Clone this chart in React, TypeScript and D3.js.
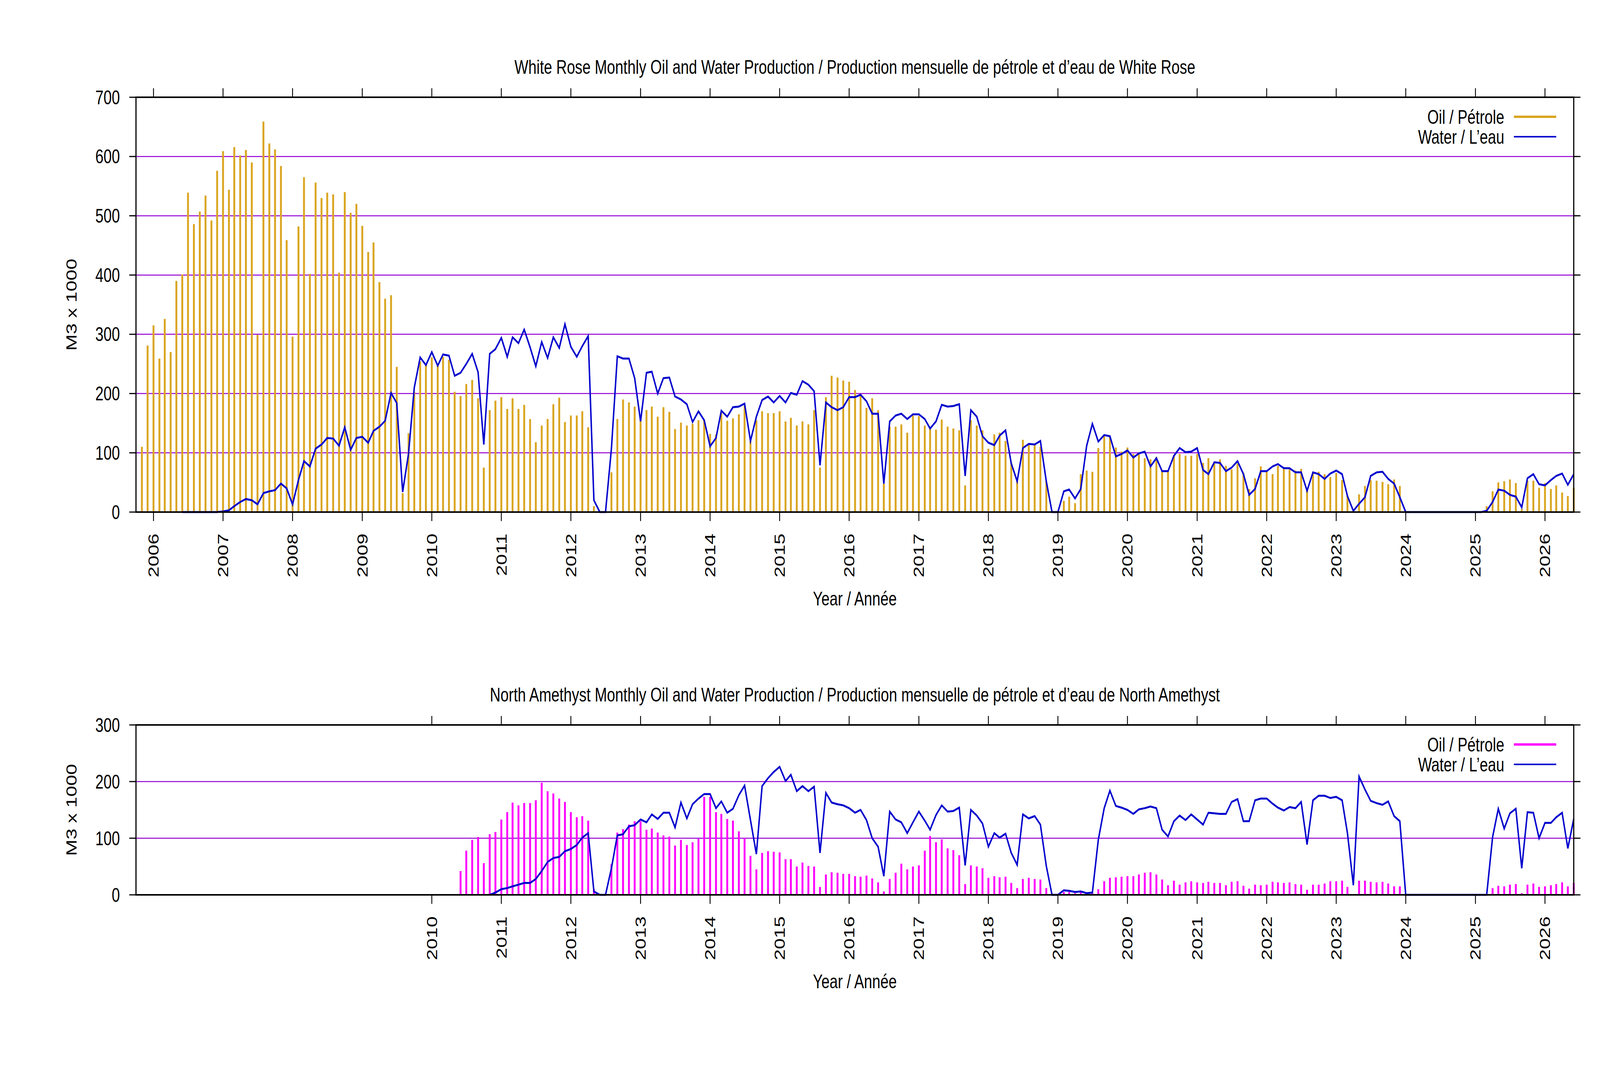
import React from 'react';
import * as d3 from 'd3';

// White Rose (goldenrod bars) and North Amethyst (magenta bars), monthly, M3 x 1000
const wrOilStart = [2005, 10]; // Nov 2005
const wrOil = [
  110, 281,
  315, 259, 326, 270, 390, 401, 539, 486, 507, 534, 492, 576, // 2006
  609, 544, 616, 602, 611, 590, 299, 659, 622, 612, 584, 459, // 2007
  296, 482, 565, 402, 556, 530, 539, 536, 404, 540, 505, 520, // 2008
  483, 439, 455, 388, 360, 366, 245, 32, 133, 203, 254, 249, // 2009
  261, 247, 262, 257, 203, 196, 216, 223, 192, 75, 172, 188, // 2010
  194, 174, 192, 174, 181, 157, 118, 146, 157, 182, 193, 152, // 2011
  163, 163, 170, 143, 10, 0, 0, 67, 157, 190, 185, 178, // 2012
  155, 172, 178, 161, 177, 169, 140, 151, 146, 149, 155, 155, // 2013
  132, 131, 167, 154, 158, 165, 179, 120, 155, 170, 167, 167, // 2014
  170, 153, 159, 146, 153, 148, 172, 75, 194, 230, 227, 222, // 2015
  220, 206, 197, 176, 192, 172, 48, 144, 144, 148, 134, 163, // 2016
  162, 146, 141, 139, 156, 144, 141, 138, 45, 155, 146, 138, // 2017
  107, 131, 134, 120, 83, 52, 122, 113, 113, 110, 52, 0, // 2018
  0, 19, 26, 15, 64, 70, 68, 108, 128, 127, 109, 102, // 2019
  109, 98, 100, 91, 89, 93, 69, 69, 96, 98, 95, 95, // 2020
  98, 83, 91, 82, 89, 78, 72, 82, 66, 39, 57, 77, // 2021
  70, 64, 78, 73, 72, 70, 73, 39, 68, 68, 64, 59, // 2022
  66, 54, 28, 0, 30, 44, 54, 53, 51, 47, 55, 44, // 2023
  0, 0, 0, 0, 0, 0, 0, 0, 0, 0, 0, 0, // 2024
  0, 0, 10, 35, 50, 52, 55, 49, 5, 53, 53, 41, // 2025
  49, 39, 45, 33, 27, 41, // 2026
];

const wrWaterStart = [2006, 5]; // Jun 2006
const wrWater = [
  0, 0, 0, 0, 0, 0, 0,
  1, 3, 10, 17, 22, 20, 13, 32, 35, 37, 48, 40, // 2007
  13, 54, 86, 77, 107, 114, 125, 124, 112, 143, 105, 125, // 2008
  127, 117, 137, 144, 154, 201, 184, 34, 99, 210, 261, 248, // 2009
  270, 247, 266, 264, 230, 235, 250, 267, 236, 114, 267, 275, // 2010
  294, 262, 295, 285, 308, 278, 246, 287, 260, 295, 277, 317, // 2011
  279, 262, 280, 297, 20, 0, 0, 107, 263, 259, 259, 226, // 2012
  153, 235, 237, 200, 226, 227, 195, 190, 182, 152, 170, 155, // 2013
  111, 125, 171, 161, 177, 178, 183, 120, 161, 189, 195, 185, // 2014
  196, 185, 201, 198, 221, 215, 204, 79, 185, 177, 172, 177, // 2015
  194, 194, 198, 187, 166, 166, 48, 153, 163, 166, 157, 165, // 2016
  165, 157, 141, 153, 181, 178, 179, 182, 61, 172, 161, 128, // 2017
  117, 113, 129, 138, 82, 52, 108, 115, 114, 120, 52, 0, // 2018
  0, 35, 38, 23, 39, 112, 149, 119, 130, 128, 94, 98, // 2019
  104, 92, 99, 102, 77, 91, 69, 69, 95, 108, 101, 102, // 2020
  108, 71, 64, 84, 83, 69, 75, 86, 64, 29, 39, 69, // 2021
  69, 77, 81, 74, 74, 67, 67, 36, 67, 64, 56, 65, // 2022
  70, 64, 27, 2, 14, 25, 61, 67, 68, 56, 48, 25, // 2023
  0, 0, 0, 0, 0, 0, 0, 0, 0, 0, 0, 0, // 2024
  0, 0, 2, 17, 38, 36, 29, 26, 8, 57, 64, 47, // 2025
  45, 54, 61, 65, 46, 64, // 2026
];

const naOilStart = [2010, 4]; // May 2010
const naOil = [
  1, 42, 78, 97, 102, 56, 107, 111,
  133, 146, 163, 158, 162, 162, 167, 198, 183, 179, 170, 164, // 2011
  146, 137, 139, 131, 10, 0, 0, 54, 110, 116, 124, 130, // 2012
  130, 115, 117, 110, 105, 103, 87, 97, 88, 93, 99, 173, // 2013
  173, 146, 143, 134, 131, 112, 100, 69, 45, 74, 77, 76, // 2014
  75, 63, 63, 50, 57, 51, 50, 14, 36, 40, 39, 37, // 2015
  37, 33, 32, 34, 29, 22, 6, 28, 39, 55, 45, 50, // 2016
  52, 78, 104, 93, 98, 82, 79, 70, 19, 52, 50, 47, // 2017
  30, 33, 31, 32, 21, 12, 28, 30, 28, 27, 12, 0, // 2018
  0, 5, 5, 3, 5, 4, 4, 10, 24, 30, 31, 32, // 2019
  33, 33, 36, 39, 40, 36, 27, 17, 25, 18, 22, 24, // 2020
  22, 21, 23, 21, 21, 17, 23, 24, 16, 11, 18, 17, // 2021
  18, 23, 22, 21, 22, 19, 18, 9, 18, 18, 20, 24, // 2022
  24, 25, 14, 1, 25, 25, 23, 22, 23, 20, 15, 15, // 2023
  0, 0, 0, 0, 0, 0, 0, 0, 0, 0, 0, 0, // 2024
  0, 0, 0, 12, 16, 15, 18, 19, 3, 18, 20, 14, // 2025
  15, 17, 19, 22, 15, 21, // 2026
];

const naWaterStart = [2010, 10]; // Nov 2010
const naWater = [
  0, 4,
  10, 12, 15, 18, 21, 21, 28, 42, 58, 65, 67, 77, // 2011
  81, 88, 101, 109, 6, 0, 0, 47, 105, 107, 121, 123, // 2012
  133, 128, 142, 134, 145, 145, 119, 163, 135, 160, 170, 178, // 2013
  178, 153, 165, 145, 152, 176, 193, 132, 72, 192, 206, 217, // 2014
  226, 201, 212, 183, 192, 183, 191, 74, 180, 163, 160, 158, // 2015
  153, 145, 150, 132, 100, 85, 33, 147, 133, 128, 109, 128, // 2016
  147, 131, 115, 141, 158, 147, 148, 154, 52, 150, 140, 126, // 2017
  85, 109, 101, 108, 74, 53, 142, 135, 139, 124, 51, 0, // 2018
  0, 8, 7, 5, 6, 3, 4, 97, 153, 184, 157, 154, // 2019
  150, 143, 151, 153, 156, 153, 115, 103, 130, 140, 132, 142, // 2020
  133, 124, 145, 144, 143, 143, 164, 169, 130, 130, 167, 170, // 2021
  170, 161, 154, 149, 155, 153, 164, 89, 167, 175, 175, 171, // 2022
  173, 167, 109, 17, 209, 186, 166, 162, 159, 165, 139, 130, // 2023
  0, 0, 0, 0, 0, 0, 0, 0, 0, 0, 0, 0, // 2024
  0, 0, 0, 102, 152, 117, 144, 152, 47, 146, 145, 100, // 2025
  127, 127, 137, 145, 82, 134, // 2026
];

const topYears = [2006, 2007, 2008, 2009, 2010, 2011, 2012, 2013, 2014, 2015, 2016,
  2017, 2018, 2019, 2020, 2021, 2022, 2023, 2024, 2025, 2026];
const bottomYears = [2010, 2011, 2012, 2013, 2014, 2015, 2016, 2017, 2018, 2019, 2020,
  2021, 2022, 2023, 2024, 2025, 2026];
const topYTicks = [0, 100, 200, 300, 400, 500, 600, 700];
const bottomYTicks = [0, 100, 200, 300];

const W = 5483;
const H = 2742;
const LEFT = 466;
const RIGHT = 5393;
const FONT = '"Liberation Sans", Arial, Helvetica, sans-serif';
const FS = 50.5;
const GRID = '#9400d3';
const WATER = '#0000cd';

const x = d3.scaleUtc()
  .domain([new Date(Date.UTC(2005, 9, 1)), new Date(Date.UTC(2026, 5, 1))])
  .range([LEFT, RIGHT]);

const toPoints = (start: number[], vals: number[]) =>
  vals.map((v, i) => ({ date: new Date(Date.UTC(start[0], start[1] + i, 1)), v }));

interface PanelProps {
  title: string;
  top: number;
  bottom: number;
  yTicks: number[];
  years: number[];
  oil: { date: Date; v: number }[];
  water: { date: Date; v: number }[];
  oilColor: string;
}

const Panel = ({ title, top, bottom, yTicks, years, oil, water, oilColor }: PanelProps) => {
  const y = d3.scaleLinear().domain([0, yTicks[yTicks.length - 1]]).range([bottom, top]);
  const line = d3.line<{ date: Date; v: number }>()
    .x((d) => x(d.date))
    .y((d) => y(d.v));
  const tl = 23;
  const cx = (LEFT + RIGHT) / 2;
  const legX = 5155;
  const legY = top + 50;

  return (
    <g fontFamily={FONT} fontSize={FS} fill="#000">
      <text x={cx} y={top - 78} textAnchor="middle" dominantBaseline="central">{title}</text>

      {yTicks.slice(1, -1).map((t) => (
        <line key={'g' + t} x1={LEFT} x2={RIGHT} y1={y(t)} y2={y(t)} stroke={GRID} strokeWidth={2.5} />
      ))}

      {oil.map((d, i) => (
        <line key={'o' + i} x1={x(d.date)} x2={x(d.date)} y1={y(0)} y2={y(d.v)}
          stroke={oilColor} strokeWidth={6.5} />
      ))}

      <path d={line(water) || ''} fill="none" stroke={WATER} strokeWidth={5} />

      <rect x={LEFT} y={top} width={RIGHT - LEFT} height={bottom - top}
        fill="none" stroke="#000" strokeWidth={4} />

      {yTicks.map((t) => (
        <g key={'y' + t}>
          <line x1={LEFT - tl} x2={LEFT} y1={y(t)} y2={y(t)} stroke="#000" strokeWidth={3} />
          <line x1={RIGHT} x2={RIGHT + tl} y1={y(t)} y2={y(t)} stroke="#000" strokeWidth={3} />
          <text x={LEFT - 55} y={y(t)} textAnchor="end" dominantBaseline="central">{t}</text>
        </g>
      ))}

      {years.map((yr) => {
        const px = x(new Date(Date.UTC(yr, 0, 1)));
        return (
          <g key={'x' + yr}>
            <line x1={px} x2={px} y1={bottom} y2={bottom + tl} stroke="#000" strokeWidth={3} />
            <line x1={px} x2={px} y1={top - tl} y2={top} stroke="#000" strokeWidth={3} />
            <text transform={`translate(${px},${bottom + 55}) rotate(-90)`}
              textAnchor="end" dominantBaseline="central">{yr}</text>
          </g>
        );
      })}

      <text transform={`translate(245,${(top + bottom) / 2}) rotate(-90)`}
        textAnchor="middle" dominantBaseline="central">M3 x 1000</text>
      <text x={cx} y={bottom + 221} textAnchor="middle" dominantBaseline="central">Year / Année</text>

      <text x={legX} y={legY} textAnchor="end" dominantBaseline="central">Oil / Pétrole</text>
      <line x1={5188} x2={5333} y1={legY} y2={legY} stroke={oilColor} strokeWidth={6} />
      <text x={legX} y={legY + 51} textAnchor="end" dominantBaseline="central">Water / L’eau</text>
      <line x1={5188} x2={5333} y1={legY + 51} y2={legY + 51} stroke={WATER} strokeWidth={4} />
    </g>
  );
};

export default function App() {
  // the drawing is laid out on the reference's 5483 x 2742 grid and fills the window
  return (
    <svg viewBox={`0 0 ${W} ${H}`} preserveAspectRatio="none"
      style={{ position: 'fixed', left: 0, top: 0, width: '100vw', height: '100vh', display: 'block', background: '#fff' }}>
      <rect width={W} height={H} fill="#fff" />
      <Panel
        title="White Rose Monthly Oil and Water Production / Production mensuelle de pétrole et d’eau de White Rose"
        top={249} bottom={1311} yTicks={topYTicks} years={topYears}
        oil={toPoints(wrOilStart, wrOil)} water={toPoints(wrWaterStart, wrWater)} oilColor="#daa520" />
      <Panel
        title="North Amethyst Monthly Oil and Water Production / Production mensuelle de pétrole et d’eau de North Amethyst"
        top={1856} bottom={2291} yTicks={bottomYTicks} years={bottomYears}
        oil={toPoints(naOilStart, naOil)} water={toPoints(naWaterStart, naWater)} oilColor="#ff00ff" />
    </svg>
  );
}
